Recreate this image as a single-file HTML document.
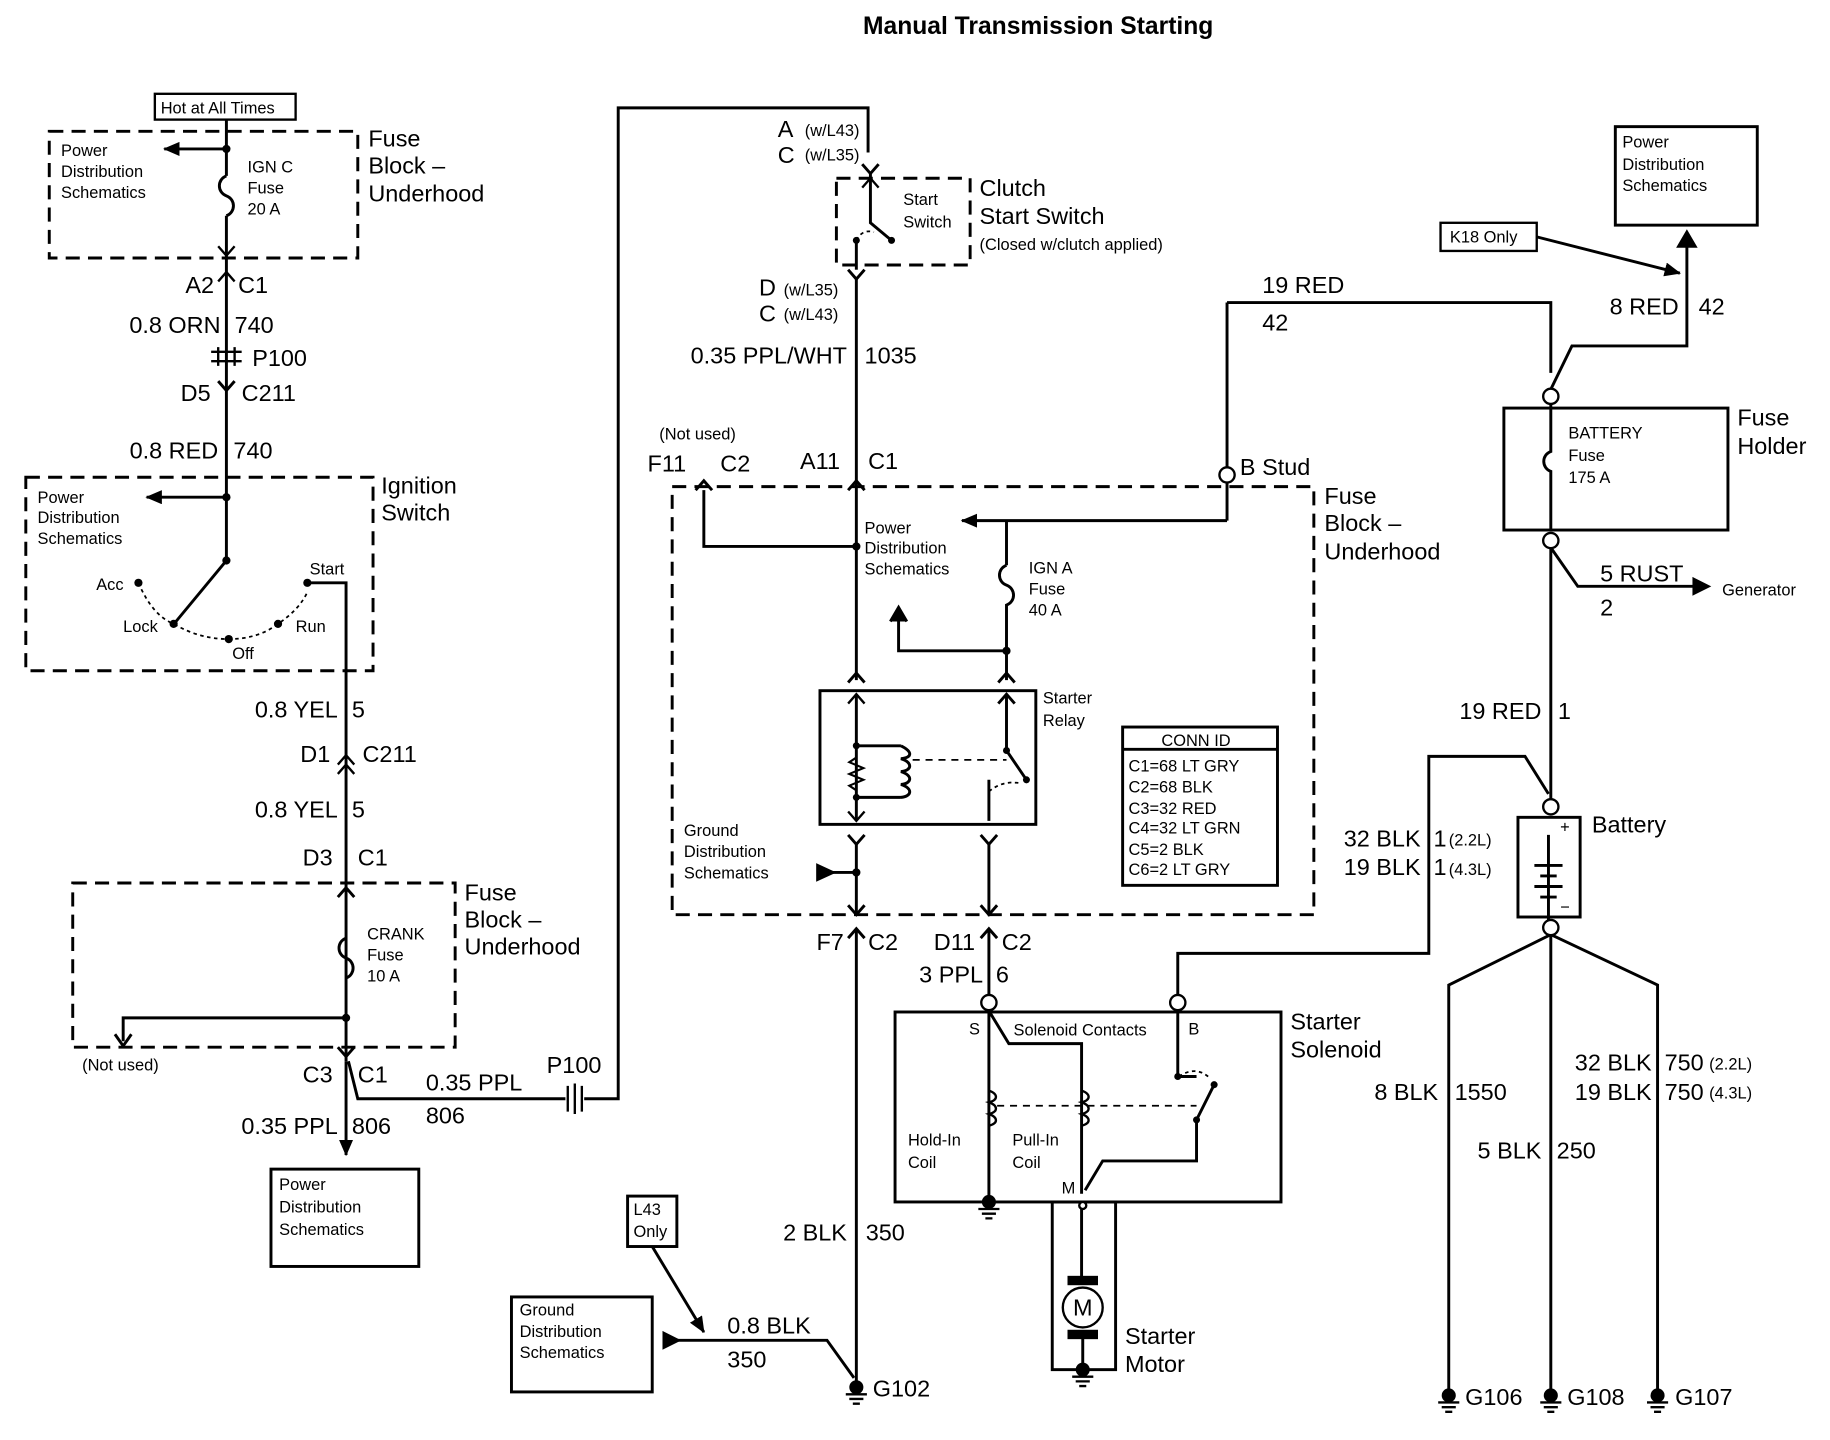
<!DOCTYPE html>
<html><head><meta charset="utf-8"><style>
html,body{margin:0;padding:0;background:#fff;}
svg{display:block;}
text{font-family:"Liberation Sans",sans-serif;fill:#000;}
</style></head><body>
<svg width="1830" height="1440" viewBox="0 0 1560 1228" preserveAspectRatio="none" xmlns="http://www.w3.org/2000/svg">
<defs>
<marker id="ar" markerWidth="8" markerHeight="8" refX="7" refY="4" orient="auto" markerUnits="userSpaceOnUse"><path d="M0,0 L8,4 L0,8 z" fill="#000"/></marker>
<marker id="arb" markerWidth="14" markerHeight="12" refX="13" refY="6" orient="auto" markerUnits="userSpaceOnUse"><path d="M0,0 L14,6 L0,12 z" fill="#000"/></marker>
</defs>
<g stroke="#000" stroke-width="2.5" fill="none">
<!-- dashed boxes -->
<g stroke-dasharray="12,7">
<rect x="42" y="112" width="263" height="108"/>
<rect x="22" y="407" width="296" height="165"/>
<rect x="62" y="753" width="326" height="140"/>
<rect x="713" y="152" width="114" height="74"/>
<rect x="573" y="415" width="547" height="365"/>
</g>
<!-- solid boxes -->
<rect x="132" y="80" width="120" height="22" stroke-width="2"/>
<rect x="231" y="997" width="126" height="83"/>
<rect x="436" y="1106" width="120" height="81"/>
<rect x="535" y="1020" width="42" height="43"/>
<rect x="699" y="589" width="184" height="114"/>
<rect x="957" y="620" width="132" height="135"/>
<line x1="957" y1="639" x2="1089" y2="639"/>
<rect x="763" y="863" width="329" height="162"/>
<rect x="897" y="1025" width="54" height="143"/>
<rect x="1377" y="108" width="121" height="84"/>
<rect x="1228" y="190" width="82" height="24" stroke-width="2"/>
<rect x="1282" y="348" width="191" height="104"/>
<rect x="1294" y="697" width="53" height="85"/>

<!-- left wire -->
<path d="M193,102 V150 M193,184 V385 M193,385 V478"/>
<path d="M193,150 c-8,3 -8,14 0,17 c8,3 8,14 0,17"/>
<line x1="193" y1="127" x2="140" y2="127" marker-end="url(#arb)"/>
<line x1="193" y1="424" x2="125" y2="424" marker-end="url(#arb)"/>
<path d="M186,210 L193,218 L200,210 M186,240 L193,232 L200,240" stroke-width="2"/>
<path d="M186,325 L193,333 L200,325"/>
<path d="M180,300 H206 M180,308 H206 M186,296 v16 M200,296 v16" stroke-width="2"/>
<line x1="193" y1="478" x2="150" y2="530"/>
<path d="M118,497 Q130,525 148,532 Q170,545 195,545 Q220,545 237,532 Q255,520 262,505" stroke-dasharray="3,3" stroke-width="1.5"/>
<path d="M262,497 H295 V905"/>
<path d="M288,660 L295,652 L302,660 M288,652 L295,644 L302,652" stroke-width="2"/>
<path d="M288,765 L295,757 L302,765"/>
<path d="M295,800 c-8,3 -8,14 0,17 c8,3 8,14 0,17"/>
<path d="M295,868 H105 V888"/>
<path d="M98,882 L105,892 L112,882"/>
<path d="M288,893 L295,901 L302,893"/>
<line x1="295" y1="905" x2="295" y2="985" marker-end="url(#arb)"/>
<path d="M297,905 L305,937 H482 M498,937 H527 V92 H740 V130"/>
<path d="M484,926 v22 M490,924 v26 M496,926 v22" stroke-width="2"/>
<!-- clutch switch -->
<path d="M735,140 L742,148 L749,140"/>
<path d="M742,148 V190 L760,205" />
<path d="M735,160 L742,152 L749,160" stroke-width="2"/>
<path d="M730,205 Q735,195 745,198" stroke-dasharray="3,3" stroke-width="1.5"/>
<path d="M730,205 V230"/>
<path d="M723,230 L730,238 L737,230"/>
<path d="M730,238 V412"/>
<path d="M723,418 L730,410 L737,418 M593,418 L600,410 L607,418"/>
<path d="M730,410 V580 M600,418 V466 H730"/>
<line x1="1046" y1="444" x2="820" y2="444" marker-end="url(#arb)"/>
<path d="M1046,258 V398 M1046,412 V444 M858,444 V482"/>
<path d="M858,482 c-8,3 -8,14 0,17 c8,3 8,14 0,17 V580 M858,555 H766 V525"/>
<path d="M759,530 L766,518 L773,530" fill="#000"/>
<path d="M723,582 L730,574 L737,582 M851,582 L858,574 L865,582"/>
<!-- relay internals -->
<path d="M730,592 V700 M730,636 H768 M730,680 H768 M768,636 c10,5 10,10 0,11 c10,3 10,10 0,11 c10,3 10,10 0,11 c10,3 10,10 0,11"/>
<path d="M730,636 v10 l-6,4 l12,5 l-12,5 l12,5 l-12,5 l6,4 v10" stroke-width="1.8"/>
<path d="M723,600 L730,592 L737,600 M723,692 L730,700 L737,692" stroke-width="2"/>
<path d="M778,648 H858" stroke-dasharray="6,5" stroke-width="1.5"/>
<path d="M858,592 V640 L875,665 M843,665 V700 M851,600 L858,592 L865,600"/>
<path d="M843,675 Q855,665 870,668" stroke-dasharray="3,3" stroke-width="1.5"/>
<path d="M723,712 L730,720 L737,712 M836,712 L843,720 L850,712"/>
<path d="M730,720 V780 M843,720 V780 M697,744 H730"/>
<path d="M697,738 L710,744 L697,750 z" fill="#000"/>
<path d="M723,772 L730,780 L737,772 M836,772 L843,780 L850,772"/>
<path d="M723,800 L730,792 L737,800 M836,800 L843,792 L850,800"/>
<path d="M730,792 V1180 M843,792 V848"/>
<!-- solenoid -->
<path d="M843,862 V1020 M843,862 L860,890 H922 V1018 M1004,862 V918 M1020,955 V990 H940 L925,1015"/>
<path d="M843,930 c8,3 8,8 0,10 c8,3 8,8 0,10 c8,3 8,8 0,10 M922,930 c8,3 8,8 0,10 c8,3 8,8 0,10 c8,3 8,8 0,10" stroke-width="2"/>
<path d="M1004,918 L1020,918 M1020,955 L1035,925" />
<path d="M1005,918 Q1020,908 1032,920" stroke-dasharray="3,3" stroke-width="1.5"/>
<path d="M850,943 H1020" stroke-dasharray="6,5" stroke-width="1.5"/>
<path d="M922,1030 V1095 M923,1137 V1168"/>
<path d="M1004,862 V813 H1218 V645 H1300 L1320,677"/>
<path d="M568,1143 H705 L728,1175"/>
<path d="M566,1137 L578,1143 L566,1149 z" fill="#000"/>
<line x1="556" y1="1063" x2="600" y2="1136" marker-end="url(#arb)"/>
<!-- right -->
<path d="M1046,258 H1322 V318 M1438,208 V295 H1340 L1322,332"/>
<path d="M1431,210 L1438,198 L1445,210 z" fill="#000"/>
<line x1="1310" y1="202" x2="1432" y2="233" marker-end="url(#arb)"/>
<path d="M1322,344 V385 c-8,3 -8,14 0,17 V452 M1322,467 V682 M1322,467 L1345,500 H1455"/>
<path d="M1444,494 L1456,500 L1444,506 z" fill="#000"/>
<path d="M1322,795 V1185 M1322,797 L1235,840 V1185 M1322,797 L1413,840 V1185"/>
<path d="M1320,712 v80 M1308,738 H1332 M1313,747 H1327 M1308,756 H1332 M1313,765 H1327"/>
</g>
<g fill="#000">
<circle cx="193" cy="127" r="3.5"/><circle cx="193" cy="424" r="3.5"/><circle cx="193" cy="478" r="3.5"/>
<circle cx="118" cy="497" r="3.5"/><circle cx="148" cy="532" r="3.5"/><circle cx="195" cy="545" r="3.5"/><circle cx="237" cy="532" r="3.5"/><circle cx="262" cy="497" r="3.5"/>
<circle cx="295" cy="868" r="3.5"/><circle cx="730" cy="466" r="3.5"/><circle cx="858" cy="555" r="3.5"/>
<circle cx="760" cy="205" r="3"/><circle cx="730" cy="205" r="3"/>
<circle cx="730" cy="636" r="3"/><circle cx="730" cy="680" r="3"/><circle cx="875" cy="665" r="3"/><circle cx="858" cy="640" r="3"/><circle cx="730" cy="744" r="3.5"/>
<circle cx="1004" cy="918" r="3"/><circle cx="1020" cy="955" r="3"/><circle cx="1035" cy="925" r="3"/>
</g>
<g fill="#fff" stroke="#000" stroke-width="2">
<circle cx="1046" cy="405" r="6.5"/><circle cx="843" cy="855" r="6.5"/><circle cx="1004" cy="855" r="6.5"/>
<circle cx="1322" cy="338" r="6.5"/><circle cx="1322" cy="461" r="6.5"/><circle cx="1322" cy="688" r="6.5"/><circle cx="1322" cy="791" r="6.5"/>
<circle cx="923" cy="1028" r="3"/>
<circle cx="923" cy="1115" r="17"/>
</g>
<g fill="#000">
<rect x="910" y="1088" width="26" height="8"/><rect x="910" y="1134" width="26" height="8"/>
</g>
<!-- grounds -->
<g stroke="#000" stroke-width="2" fill="#000">
<g transform="translate(843,1025)"><circle r="5"/><path d="M-9,6 H9 M-6,10 H6 M-3,14 H3"/></g>
<g transform="translate(923,1168)"><circle r="5"/><path d="M-9,6 H9 M-6,10 H6 M-3,14 H3"/></g>
<g transform="translate(730,1183)"><circle r="5"/><path d="M-9,6 H9 M-6,10 H6 M-3,14 H3"/></g>
<g transform="translate(1235,1190)"><circle r="5"/><path d="M-9,6 H9 M-6,10 H6 M-3,14 H3"/></g>
<g transform="translate(1322,1190)"><circle r="5"/><path d="M-9,6 H9 M-6,10 H6 M-3,14 H3"/></g>
<g transform="translate(1413,1190)"><circle r="5"/><path d="M-9,6 H9 M-6,10 H6 M-3,14 H3"/></g>
</g>
<text x="885" y="29" font-size="21" font-weight="bold" text-anchor="middle">Manual Transmission Starting</text>
<g font-size="14">
<text x="137" y="97">Hot at All Times</text>
<text x="52" y="133">Power</text><text x="52" y="151">Distribution</text><text x="52" y="169">Schematics</text>
<text x="211" y="147">IGN C</text><text x="211" y="165">Fuse</text><text x="211" y="183">20 A</text>
<text x="32" y="429">Power</text><text x="32" y="446">Distribution</text><text x="32" y="464">Schematics</text>
<text x="82" y="503">Acc</text><text x="105" y="539">Lock</text><text x="198" y="562">Off</text><text x="252" y="539">Run</text><text x="264" y="490">Start</text>
<text x="313" y="801">CRANK</text><text x="313" y="819">Fuse</text><text x="313" y="837">10 A</text>
<text x="70" y="913">(Not used)</text>
<text x="238" y="1015">Power</text><text x="238" y="1034">Distribution</text><text x="238" y="1053">Schematics</text>
<text x="443" y="1122">Ground</text><text x="443" y="1140">Distribution</text><text x="443" y="1158">Schematics</text>
<text x="540" y="1036">L43</text><text x="540" y="1055">Only</text>
<text x="770" y="175">Start</text><text x="770" y="194">Switch</text>
<text x="835" y="213">(Closed w/clutch applied)</text>
<text x="562" y="375">(Not used)</text>
<text x="737" y="455">Power</text><text x="737" y="472">Distribution</text><text x="737" y="490">Schematics</text>
<text x="877" y="489">IGN A</text><text x="877" y="507">Fuse</text><text x="877" y="525">40 A</text>
<text x="889" y="600">Starter</text><text x="889" y="619">Relay</text>
<text x="990" y="636">CONN ID</text>
<text x="962" y="658">C1=68 LT GRY</text><text x="962" y="676">C2=68 BLK</text><text x="962" y="694">C3=32 RED</text><text x="962" y="711">C4=32 LT GRN</text><text x="962" y="729">C5=2 BLK</text><text x="962" y="746">C6=2 LT GRY</text>
<text x="583" y="713">Ground</text><text x="583" y="731">Distribution</text><text x="583" y="749">Schematics</text>
<text x="826" y="882">S</text><text x="864" y="883">Solenoid Contacts</text><text x="1013" y="882">B</text>
<text x="774" y="977">Hold-In</text><text x="774" y="996">Coil</text><text x="863" y="977">Pull-In</text><text x="863" y="996">Coil</text>
<text x="905" y="1018">M</text>
<text x="1383" y="126">Power</text><text x="1383" y="145">Distribution</text><text x="1383" y="163">Schematics</text>
<text x="1236" y="207">K18 Only</text>
<text x="1337" y="374">BATTERY</text><text x="1337" y="393">Fuse</text><text x="1337" y="412">175 A</text>
<text x="1468" y="508">Generator</text>
<text x="1330" y="710">+</text><text x="1330" y="778">−</text>
<text x="1235" y="721">(2.2L)</text><text x="1235" y="746">(4.3L)</text>
<text x="1457" y="912">(2.2L)</text><text x="1457" y="937">(4.3L)</text>
<text x="686" y="116">(w/L43)</text><text x="686" y="137">(w/L35)</text>
<text x="668" y="252">(w/L35)</text><text x="668" y="273">(w/L43)</text>
</g>
<g font-size="20">
<text x="314" y="125">Fuse</text><text x="314" y="148">Block –</text><text x="314" y="172">Underhood</text>
<text x="158" y="250">A2</text><text x="203" y="250">C1</text>
<text x="188" y="284" text-anchor="end">0.8 ORN</text><text x="200" y="284">740</text>
<text x="215" y="312">P100</text>
<text x="154" y="342">D5</text><text x="206" y="342">C211</text>
<text x="186" y="391" text-anchor="end">0.8 RED</text><text x="199" y="391">740</text>
<text x="325" y="421">Ignition</text><text x="325" y="444">Switch</text>
<text x="288" y="612" text-anchor="end">0.8 YEL</text><text x="300" y="612">5</text>
<text x="256" y="650">D1</text><text x="309" y="650">C211</text>
<text x="288" y="697" text-anchor="end">0.8 YEL</text><text x="300" y="697">5</text>
<text x="258" y="738">D3</text><text x="305" y="738">C1</text>
<text x="396" y="768">Fuse</text><text x="396" y="791">Block –</text><text x="396" y="814">Underhood</text>
<text x="258" y="923">C3</text><text x="305" y="923">C1</text>
<text x="363" y="930">0.35 PPL</text><text x="363" y="958">806</text>
<text x="466" y="915">P100</text>
<text x="288" y="967" text-anchor="end">0.35 PPL</text><text x="300" y="967">806</text>
<text x="663" y="117">A</text><text x="663" y="139">C</text>
<text x="835" y="167">Clutch</text><text x="835" y="191">Start Switch</text>
<text x="647" y="252">D</text><text x="647" y="274">C</text>
<text x="722" y="310" text-anchor="end">0.35 PPL/WHT</text><text x="737" y="310">1035</text>
<text x="552" y="402">F11</text><text x="614" y="402">C2</text><text x="682" y="400">A11</text><text x="740" y="400">C1</text>
<text x="1057" y="405">B Stud</text>
<text x="1129" y="430">Fuse</text><text x="1129" y="453">Block –</text><text x="1129" y="477">Underhood</text>
<text x="696" y="810">F7</text><text x="740" y="810">C2</text><text x="796" y="810">D11</text><text x="854" y="810">C2</text>
<text x="838" y="838" text-anchor="end">3 PPL</text><text x="849" y="838">6</text>
<text x="1100" y="878">Starter</text><text x="1100" y="902">Solenoid</text>
<text x="722" y="1058" text-anchor="end">2 BLK</text><text x="738" y="1058">350</text>
<text x="620" y="1137">0.8 BLK</text><text x="620" y="1166">350</text>
<text x="744" y="1191">G102</text>
<text x="959" y="1146">Starter</text><text x="959" y="1170">Motor</text>
<text x="1076" y="250">19 RED</text><text x="1076" y="282">42</text>
<text x="1431" y="268" text-anchor="end">8 RED</text><text x="1448" y="268">42</text>
<text x="1481" y="363">Fuse</text><text x="1481" y="387">Holder</text>
<text x="1364" y="496">5 RUST</text><text x="1364" y="525">2</text>
<text x="1314" y="613" text-anchor="end">19 RED</text><text x="1328" y="613">1</text>
<text x="1357" y="710">Battery</text>
<text x="1211" y="722" text-anchor="end">32 BLK</text><text x="1222" y="722">1</text>
<text x="1211" y="746" text-anchor="end">19 BLK</text><text x="1222" y="746">1</text>
<text x="1226" y="938" text-anchor="end">8 BLK</text><text x="1240" y="938">1550</text>
<text x="1314" y="988" text-anchor="end">5 BLK</text><text x="1327" y="988">250</text>
<text x="1408" y="913" text-anchor="end">32 BLK</text><text x="1419" y="913">750</text>
<text x="1408" y="938" text-anchor="end">19 BLK</text><text x="1419" y="938">750</text>
<text x="1249" y="1198">G106</text><text x="1336" y="1198">G108</text><text x="1428" y="1198">G107</text>
</g>
<text x="923" y="1122" font-size="20" text-anchor="middle">M</text>
</svg>
</body></html>
